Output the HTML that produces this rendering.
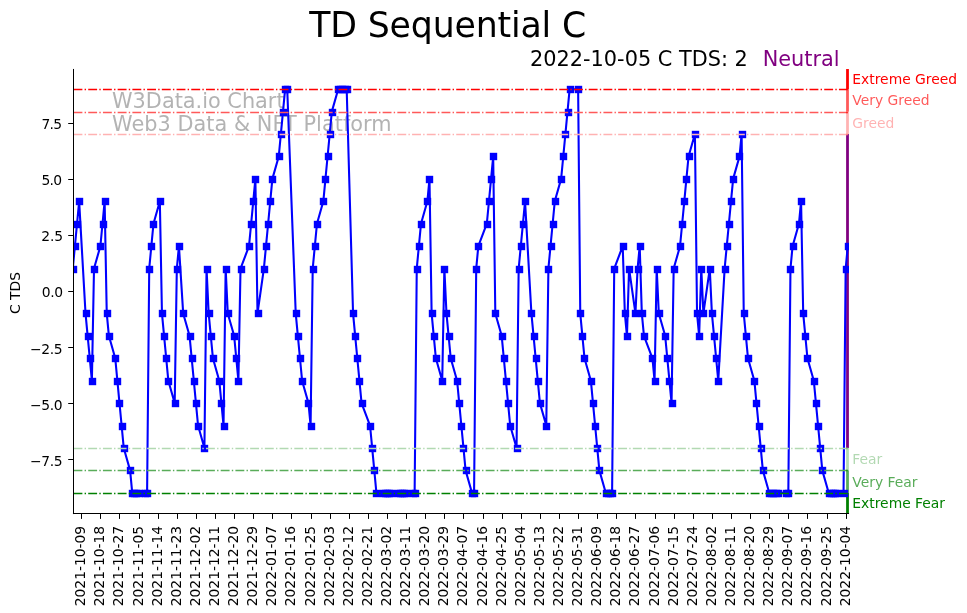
<!DOCTYPE html><html><head><meta charset="utf-8"><title>TD Sequential C</title><style>html,body{margin:0;padding:0;background:#fff}svg{display:block}text{font-family:"DejaVu Sans","Liberation Sans",sans-serif}.t{font-size:13.89px}</style></head><body>
<svg width="967" height="613" viewBox="0 0 967 613">
<rect width="967" height="613" fill="#fff"/>
<text x="112" y="108.3" font-size="20.83" fill="#808080" fill-opacity="0.6">W3Data.io Chart</text>
<text x="112" y="131.3" font-size="20.83" fill="#808080" fill-opacity="0.6" letter-spacing="0.03">Web3 Data &amp; NFT Platform</text>
<rect x="846.11" y="69.04" width="2.78" height="20.18" fill="#ff0000" fill-opacity="1"/>
<rect x="846.11" y="89.22" width="2.78" height="22.42" fill="#ff0000" fill-opacity="0.65"/>
<rect x="846.11" y="111.64" width="2.78" height="22.42" fill="#ff0000" fill-opacity="0.3"/>
<rect x="846.11" y="134.06" width="2.78" height="313.88" fill="#800080" fill-opacity="1"/>
<rect x="846.11" y="447.94" width="2.78" height="22.42" fill="#008000" fill-opacity="0.3"/>
<rect x="846.11" y="470.36" width="2.78" height="22.42" fill="#008000" fill-opacity="0.65"/>
<rect x="846.11" y="492.78" width="2.78" height="21.22" fill="#008000" fill-opacity="1"/>
<defs><rect id="m" x="-3.695" y="-3.695" width="7.39" height="7.39"/></defs>
<clipPath id="c"><rect x="73" y="69" width="776" height="445"/></clipPath>
<g clip-path="url(#c)"><polyline points="72.78,268.58 74.90,246.16 77.03,223.74 79.15,201.32 85.52,313.42 87.64,335.84 89.77,358.26 91.89,380.68 94.01,268.58 100.38,246.16 102.51,223.74 104.63,201.32 106.75,313.42 108.88,335.84 115.25,358.26 117.37,380.68 119.49,403.10 121.62,425.52 123.74,447.94 130.11,470.36 132.23,492.78 134.36,492.78 136.48,492.78 138.60,492.78 144.97,492.78 147.10,492.78 149.22,268.58 151.34,246.16 153.47,223.74 159.84,201.32 161.96,313.42 164.08,335.84 166.21,358.26 168.33,380.68 174.70,403.10 176.82,268.58 178.94,246.16 183.19,313.42 189.56,335.84 191.68,358.26 193.81,380.68 195.93,403.10 198.05,425.52 204.42,447.94 206.55,268.58 208.67,313.42 210.79,335.84 212.92,358.26 219.29,380.68 221.41,403.10 223.53,425.52 225.66,268.58 227.78,313.42 234.15,335.84 236.27,358.26 238.40,380.68 240.52,268.58 249.01,246.16 251.14,223.74 253.26,201.32 255.38,178.90 257.51,313.42 263.88,268.58 266.00,246.16 268.12,223.74 270.25,201.32 272.37,178.90 278.74,156.48 280.86,134.06 282.99,111.64 285.11,89.22 287.23,89.22 295.73,313.42 297.85,335.84 299.97,358.26 302.10,380.68 308.47,403.10 310.59,425.52 312.71,268.58 314.84,246.16 316.96,223.74 323.33,201.32 325.45,178.90 327.58,156.48 329.70,134.06 331.82,111.64 338.19,89.22 340.32,89.22 342.44,89.22 344.56,89.22 346.69,89.22 353.06,313.42 355.18,335.84 357.30,358.26 359.43,380.68 361.55,403.10 370.04,425.52 372.17,447.94 374.29,470.36 376.41,492.78 382.78,492.78 384.91,492.78 387.03,492.78 389.15,492.78 391.27,492.78 397.64,492.78 399.77,492.78 401.89,492.78 404.01,492.78 406.14,492.78 412.51,492.78 414.63,492.78 416.75,268.58 418.88,246.16 421.00,223.74 427.37,201.32 429.49,178.90 431.62,313.42 433.74,335.84 435.86,358.26 442.23,380.68 444.36,268.58 446.48,313.42 448.60,335.84 450.73,358.26 457.10,380.68 459.22,403.10 461.34,425.52 463.47,447.94 465.59,470.36 471.96,492.78 474.08,492.78 476.21,268.58 478.33,246.16 486.82,223.74 488.95,201.32 491.07,178.90 493.19,156.48 495.32,313.42 501.69,335.84 503.81,358.26 505.93,380.68 508.06,403.10 510.18,425.52 516.55,447.94 518.67,268.58 520.80,246.16 522.92,223.74 525.04,201.32 531.41,313.42 533.54,335.84 535.66,358.26 537.78,380.68 539.91,403.10 546.28,425.52 548.40,268.58 550.52,246.16 552.65,223.74 554.77,201.32 561.14,178.90 563.26,156.48 565.39,134.06 567.51,111.64 569.63,89.22 578.13,89.22 580.25,313.42 582.37,335.84 584.50,358.26 590.87,380.68 592.99,403.10 595.11,425.52 597.24,447.94 599.36,470.36 605.73,492.78 607.85,492.78 609.97,492.78 612.10,492.78 614.22,268.58 622.71,246.16 624.84,313.42 626.96,335.84 629.08,268.58 635.45,313.42 637.58,268.58 639.70,246.16 641.82,313.42 643.95,335.84 652.44,358.26 654.56,380.68 656.69,268.58 658.81,313.42 665.18,335.84 667.30,358.26 669.43,380.68 671.55,403.10 673.67,268.58 680.04,246.16 682.17,223.74 684.29,201.32 686.41,178.90 688.54,156.48 694.91,134.06 697.03,313.42 699.15,335.84 701.28,268.58 703.40,313.42 709.77,268.58 711.89,313.42 714.02,335.84 716.14,358.26 718.26,380.68 724.63,268.58 726.76,246.16 728.88,223.74 731.00,201.32 733.13,178.90 739.50,156.48 741.62,134.06 743.74,313.42 745.87,335.84 747.99,358.26 754.36,380.68 756.48,403.10 758.61,425.52 760.73,447.94 762.85,470.36 769.22,492.78 771.35,492.78 773.47,492.78 775.59,492.78 777.72,492.78 786.21,492.78 788.33,492.78 790.46,268.58 792.58,246.16 798.95,223.74 801.07,201.32 803.20,313.42 805.32,335.84 807.44,358.26 813.81,380.68 815.93,403.10 818.06,425.52 820.18,447.94 822.30,470.36 828.67,492.78 830.80,492.78 832.92,492.78 835.04,492.78 837.17,492.78 843.54,492.78 845.66,268.58 847.78,246.16" fill="none" stroke="#0000ff" stroke-width="2.08" stroke-linejoin="round"/>
<g fill="#0000ff"><use href="#m" x="73.5" y="269.5"/><use href="#m" x="75.5" y="246.5"/><use href="#m" x="77.5" y="224.5"/><use href="#m" x="79.5" y="201.5"/><use href="#m" x="86.5" y="313.5"/><use href="#m" x="88.5" y="336.5"/><use href="#m" x="90.5" y="358.5"/><use href="#m" x="92.5" y="381.5"/><use href="#m" x="94.5" y="269.5"/><use href="#m" x="100.5" y="246.5"/><use href="#m" x="103.5" y="224.5"/><use href="#m" x="105.5" y="201.5"/><use href="#m" x="107.5" y="313.5"/><use href="#m" x="109.5" y="336.5"/><use href="#m" x="115.5" y="358.5"/><use href="#m" x="117.5" y="381.5"/><use href="#m" x="119.5" y="403.5"/><use href="#m" x="122.5" y="426.5"/><use href="#m" x="124.5" y="448.5"/><use href="#m" x="130.5" y="470.5"/><use href="#m" x="132.5" y="493.5"/><use href="#m" x="134.5" y="493.5"/><use href="#m" x="136.5" y="493.5"/><use href="#m" x="139.5" y="493.5"/><use href="#m" x="145.5" y="493.5"/><use href="#m" x="147.5" y="493.5"/><use href="#m" x="149.5" y="269.5"/><use href="#m" x="151.5" y="246.5"/><use href="#m" x="153.5" y="224.5"/><use href="#m" x="160.5" y="201.5"/><use href="#m" x="162.5" y="313.5"/><use href="#m" x="164.5" y="336.5"/><use href="#m" x="166.5" y="358.5"/><use href="#m" x="168.5" y="381.5"/><use href="#m" x="175.5" y="403.5"/><use href="#m" x="177.5" y="269.5"/><use href="#m" x="179.5" y="246.5"/><use href="#m" x="183.5" y="313.5"/><use href="#m" x="190.5" y="336.5"/><use href="#m" x="192.5" y="358.5"/><use href="#m" x="194.5" y="381.5"/><use href="#m" x="196.5" y="403.5"/><use href="#m" x="198.5" y="426.5"/><use href="#m" x="204.5" y="448.5"/><use href="#m" x="207.5" y="269.5"/><use href="#m" x="209.5" y="313.5"/><use href="#m" x="211.5" y="336.5"/><use href="#m" x="213.5" y="358.5"/><use href="#m" x="219.5" y="381.5"/><use href="#m" x="221.5" y="403.5"/><use href="#m" x="224.5" y="426.5"/><use href="#m" x="226.5" y="269.5"/><use href="#m" x="228.5" y="313.5"/><use href="#m" x="234.5" y="336.5"/><use href="#m" x="236.5" y="358.5"/><use href="#m" x="238.5" y="381.5"/><use href="#m" x="241.5" y="269.5"/><use href="#m" x="249.5" y="246.5"/><use href="#m" x="251.5" y="224.5"/><use href="#m" x="253.5" y="201.5"/><use href="#m" x="255.5" y="179.5"/><use href="#m" x="258.5" y="313.5"/><use href="#m" x="264.5" y="269.5"/><use href="#m" x="266.5" y="246.5"/><use href="#m" x="268.5" y="224.5"/><use href="#m" x="270.5" y="201.5"/><use href="#m" x="272.5" y="179.5"/><use href="#m" x="279.5" y="156.5"/><use href="#m" x="281.5" y="134.5"/><use href="#m" x="283.5" y="112.5"/><use href="#m" x="285.5" y="89.5"/><use href="#m" x="287.5" y="89.5"/><use href="#m" x="296.5" y="313.5"/><use href="#m" x="298.5" y="336.5"/><use href="#m" x="300.5" y="358.5"/><use href="#m" x="302.5" y="381.5"/><use href="#m" x="308.5" y="403.5"/><use href="#m" x="311.5" y="426.5"/><use href="#m" x="313.5" y="269.5"/><use href="#m" x="315.5" y="246.5"/><use href="#m" x="317.5" y="224.5"/><use href="#m" x="323.5" y="201.5"/><use href="#m" x="325.5" y="179.5"/><use href="#m" x="328.5" y="156.5"/><use href="#m" x="330.5" y="134.5"/><use href="#m" x="332.5" y="112.5"/><use href="#m" x="338.5" y="89.5"/><use href="#m" x="340.5" y="89.5"/><use href="#m" x="342.5" y="89.5"/><use href="#m" x="345.5" y="89.5"/><use href="#m" x="347.5" y="89.5"/><use href="#m" x="353.5" y="313.5"/><use href="#m" x="355.5" y="336.5"/><use href="#m" x="357.5" y="358.5"/><use href="#m" x="359.5" y="381.5"/><use href="#m" x="362.5" y="403.5"/><use href="#m" x="370.5" y="426.5"/><use href="#m" x="372.5" y="448.5"/><use href="#m" x="374.5" y="470.5"/><use href="#m" x="376.5" y="493.5"/><use href="#m" x="383.5" y="493.5"/><use href="#m" x="385.5" y="493.5"/><use href="#m" x="387.5" y="493.5"/><use href="#m" x="389.5" y="493.5"/><use href="#m" x="391.5" y="493.5"/><use href="#m" x="398.5" y="493.5"/><use href="#m" x="400.5" y="493.5"/><use href="#m" x="402.5" y="493.5"/><use href="#m" x="404.5" y="493.5"/><use href="#m" x="406.5" y="493.5"/><use href="#m" x="413.5" y="493.5"/><use href="#m" x="415.5" y="493.5"/><use href="#m" x="417.5" y="269.5"/><use href="#m" x="419.5" y="246.5"/><use href="#m" x="421.5" y="224.5"/><use href="#m" x="427.5" y="201.5"/><use href="#m" x="429.5" y="179.5"/><use href="#m" x="432.5" y="313.5"/><use href="#m" x="434.5" y="336.5"/><use href="#m" x="436.5" y="358.5"/><use href="#m" x="442.5" y="381.5"/><use href="#m" x="444.5" y="269.5"/><use href="#m" x="446.5" y="313.5"/><use href="#m" x="449.5" y="336.5"/><use href="#m" x="451.5" y="358.5"/><use href="#m" x="457.5" y="381.5"/><use href="#m" x="459.5" y="403.5"/><use href="#m" x="461.5" y="426.5"/><use href="#m" x="463.5" y="448.5"/><use href="#m" x="466.5" y="470.5"/><use href="#m" x="472.5" y="493.5"/><use href="#m" x="474.5" y="493.5"/><use href="#m" x="476.5" y="269.5"/><use href="#m" x="478.5" y="246.5"/><use href="#m" x="487.5" y="224.5"/><use href="#m" x="489.5" y="201.5"/><use href="#m" x="491.5" y="179.5"/><use href="#m" x="493.5" y="156.5"/><use href="#m" x="495.5" y="313.5"/><use href="#m" x="502.5" y="336.5"/><use href="#m" x="504.5" y="358.5"/><use href="#m" x="506.5" y="381.5"/><use href="#m" x="508.5" y="403.5"/><use href="#m" x="510.5" y="426.5"/><use href="#m" x="517.5" y="448.5"/><use href="#m" x="519.5" y="269.5"/><use href="#m" x="521.5" y="246.5"/><use href="#m" x="523.5" y="224.5"/><use href="#m" x="525.5" y="201.5"/><use href="#m" x="531.5" y="313.5"/><use href="#m" x="534.5" y="336.5"/><use href="#m" x="536.5" y="358.5"/><use href="#m" x="538.5" y="381.5"/><use href="#m" x="540.5" y="403.5"/><use href="#m" x="546.5" y="426.5"/><use href="#m" x="548.5" y="269.5"/><use href="#m" x="551.5" y="246.5"/><use href="#m" x="553.5" y="224.5"/><use href="#m" x="555.5" y="201.5"/><use href="#m" x="561.5" y="179.5"/><use href="#m" x="563.5" y="156.5"/><use href="#m" x="565.5" y="134.5"/><use href="#m" x="568.5" y="112.5"/><use href="#m" x="570.5" y="89.5"/><use href="#m" x="578.5" y="89.5"/><use href="#m" x="580.5" y="313.5"/><use href="#m" x="582.5" y="336.5"/><use href="#m" x="584.5" y="358.5"/><use href="#m" x="591.5" y="381.5"/><use href="#m" x="593.5" y="403.5"/><use href="#m" x="595.5" y="426.5"/><use href="#m" x="597.5" y="448.5"/><use href="#m" x="599.5" y="470.5"/><use href="#m" x="606.5" y="493.5"/><use href="#m" x="608.5" y="493.5"/><use href="#m" x="610.5" y="493.5"/><use href="#m" x="612.5" y="493.5"/><use href="#m" x="614.5" y="269.5"/><use href="#m" x="623.5" y="246.5"/><use href="#m" x="625.5" y="313.5"/><use href="#m" x="627.5" y="336.5"/><use href="#m" x="629.5" y="269.5"/><use href="#m" x="635.5" y="313.5"/><use href="#m" x="638.5" y="269.5"/><use href="#m" x="640.5" y="246.5"/><use href="#m" x="642.5" y="313.5"/><use href="#m" x="644.5" y="336.5"/><use href="#m" x="652.5" y="358.5"/><use href="#m" x="655.5" y="381.5"/><use href="#m" x="657.5" y="269.5"/><use href="#m" x="659.5" y="313.5"/><use href="#m" x="665.5" y="336.5"/><use href="#m" x="667.5" y="358.5"/><use href="#m" x="669.5" y="381.5"/><use href="#m" x="672.5" y="403.5"/><use href="#m" x="674.5" y="269.5"/><use href="#m" x="680.5" y="246.5"/><use href="#m" x="682.5" y="224.5"/><use href="#m" x="684.5" y="201.5"/><use href="#m" x="686.5" y="179.5"/><use href="#m" x="689.5" y="156.5"/><use href="#m" x="695.5" y="134.5"/><use href="#m" x="697.5" y="313.5"/><use href="#m" x="699.5" y="336.5"/><use href="#m" x="701.5" y="269.5"/><use href="#m" x="703.5" y="313.5"/><use href="#m" x="710.5" y="269.5"/><use href="#m" x="712.5" y="313.5"/><use href="#m" x="714.5" y="336.5"/><use href="#m" x="716.5" y="358.5"/><use href="#m" x="718.5" y="381.5"/><use href="#m" x="725.5" y="269.5"/><use href="#m" x="727.5" y="246.5"/><use href="#m" x="729.5" y="224.5"/><use href="#m" x="731.5" y="201.5"/><use href="#m" x="733.5" y="179.5"/><use href="#m" x="739.5" y="156.5"/><use href="#m" x="742.5" y="134.5"/><use href="#m" x="744.5" y="313.5"/><use href="#m" x="746.5" y="336.5"/><use href="#m" x="748.5" y="358.5"/><use href="#m" x="754.5" y="381.5"/><use href="#m" x="756.5" y="403.5"/><use href="#m" x="759.5" y="426.5"/><use href="#m" x="761.5" y="448.5"/><use href="#m" x="763.5" y="470.5"/><use href="#m" x="769.5" y="493.5"/><use href="#m" x="771.5" y="493.5"/><use href="#m" x="773.5" y="493.5"/><use href="#m" x="776.5" y="493.5"/><use href="#m" x="778.5" y="493.5"/><use href="#m" x="786.5" y="493.5"/><use href="#m" x="788.5" y="493.5"/><use href="#m" x="790.5" y="269.5"/><use href="#m" x="793.5" y="246.5"/><use href="#m" x="799.5" y="224.5"/><use href="#m" x="801.5" y="201.5"/><use href="#m" x="803.5" y="313.5"/><use href="#m" x="805.5" y="336.5"/><use href="#m" x="807.5" y="358.5"/><use href="#m" x="814.5" y="381.5"/><use href="#m" x="816.5" y="403.5"/><use href="#m" x="818.5" y="426.5"/><use href="#m" x="820.5" y="448.5"/><use href="#m" x="822.5" y="470.5"/><use href="#m" x="829.5" y="493.5"/><use href="#m" x="831.5" y="493.5"/><use href="#m" x="833.5" y="493.5"/><use href="#m" x="835.5" y="493.5"/><use href="#m" x="837.5" y="493.5"/><use href="#m" x="844.5" y="493.5"/><use href="#m" x="846.5" y="269.5"/><use href="#m" x="848.5" y="246.5"/></g></g>
<line x1="73.5" x2="849" y1="89.5" y2="89.5" stroke="#ff0000" stroke-width="1.39" stroke-dasharray="8.89 2.22 1.39 2.22"/>
<line x1="73.5" x2="849" y1="112.5" y2="112.5" stroke="#ff5959" stroke-width="1.39" stroke-dasharray="8.89 2.22 1.39 2.22"/>
<line x1="846.11" x2="847.83" y1="112.5" y2="112.5" stroke="#ff0000" stroke-opacity="0.65" stroke-width="1.39"/>
<line x1="73.5" x2="849" y1="134.5" y2="134.5" stroke="#ffb2b2" stroke-width="1.39" stroke-dasharray="8.89 2.22 1.39 2.22"/>
<line x1="846.11" x2="847.83" y1="134.5" y2="134.5" stroke="#ff0000" stroke-opacity="0.3" stroke-width="1.39"/>
<line x1="73.5" x2="849" y1="448.5" y2="448.5" stroke="#b2d9b2" stroke-width="1.39" stroke-dasharray="8.89 2.22 1.39 2.22"/>
<line x1="846.11" x2="847.83" y1="448.5" y2="448.5" stroke="#008000" stroke-opacity="0.3" stroke-width="1.39"/>
<line x1="73.5" x2="849" y1="470.5" y2="470.5" stroke="#59ac59" stroke-width="1.39" stroke-dasharray="8.89 2.22 1.39 2.22"/>
<line x1="846.11" x2="847.83" y1="470.5" y2="470.5" stroke="#008000" stroke-opacity="0.65" stroke-width="1.39"/>
<line x1="73.5" x2="849" y1="493.5" y2="493.5" stroke="#008000" stroke-width="1.39" stroke-dasharray="8.89 2.22 1.39 2.22"/>
<rect x="73" y="68.95" width="1" height="445.10" fill="#000"/>
<rect x="72.95" y="513" width="776.10" height="1" fill="#000"/>
<rect x="68.2" y="123.0" width="4.9" height="1" fill="#000"/>
<text class="t" x="61.48" y="128.65" text-anchor="end" letter-spacing="-0.67">7.5</text>
<rect x="68.2" y="179.0" width="4.9" height="1" fill="#000"/>
<text class="t" x="61.48" y="184.70" text-anchor="end" letter-spacing="-0.67">5.0</text>
<rect x="68.2" y="235.0" width="4.9" height="1" fill="#000"/>
<text class="t" x="63.15" y="240.75" text-anchor="end" letter-spacing="-0.05">2.5</text>
<rect x="68.2" y="291.0" width="4.9" height="1" fill="#000"/>
<text class="t" x="62.85" y="296.80" text-anchor="end" letter-spacing="-0.35">0.0</text>
<rect x="68.2" y="347.0" width="4.9" height="1" fill="#000"/>
<text class="t" x="62.15" y="353.75" text-anchor="end" letter-spacing="-0.4">−2.5</text>
<rect x="68.2" y="403.0" width="4.9" height="1" fill="#000"/>
<text class="t" x="62.15" y="409.80" text-anchor="end" letter-spacing="-0.4">−5.0</text>
<rect x="68.2" y="459.0" width="4.9" height="1" fill="#000"/>
<text class="t" x="62.15" y="465.85" text-anchor="end" letter-spacing="-0.4">−7.5</text>
<rect x="81.0" y="514" width="1" height="4.9" fill="#000"/>
<text class="t" transform="translate(85.20,525.83) rotate(-90)" text-anchor="end" letter-spacing="-0.02">2021-10-09</text>
<rect x="100.0" y="514" width="1" height="4.9" fill="#000"/>
<text class="t" transform="translate(104.20,525.83) rotate(-90)" text-anchor="end" letter-spacing="-0.02">2021-10-18</text>
<rect x="119.0" y="514" width="1" height="4.9" fill="#000"/>
<text class="t" transform="translate(123.20,525.83) rotate(-90)" text-anchor="end" letter-spacing="-0.02">2021-10-27</text>
<rect x="139.0" y="514" width="1" height="4.9" fill="#000"/>
<text class="t" transform="translate(143.20,525.83) rotate(-90)" text-anchor="end" letter-spacing="-0.02">2021-11-05</text>
<rect x="158.0" y="514" width="1" height="4.9" fill="#000"/>
<text class="t" transform="translate(162.20,525.83) rotate(-90)" text-anchor="end" letter-spacing="-0.02">2021-11-14</text>
<rect x="177.0" y="514" width="1" height="4.9" fill="#000"/>
<text class="t" transform="translate(181.20,525.83) rotate(-90)" text-anchor="end" letter-spacing="-0.02">2021-11-23</text>
<rect x="196.0" y="514" width="1" height="4.9" fill="#000"/>
<text class="t" transform="translate(200.20,525.83) rotate(-90)" text-anchor="end" letter-spacing="-0.02">2021-12-02</text>
<rect x="215.0" y="514" width="1" height="4.9" fill="#000"/>
<text class="t" transform="translate(219.20,525.83) rotate(-90)" text-anchor="end" letter-spacing="-0.02">2021-12-11</text>
<rect x="234.0" y="514" width="1" height="4.9" fill="#000"/>
<text class="t" transform="translate(238.20,525.83) rotate(-90)" text-anchor="end" letter-spacing="-0.02">2021-12-20</text>
<rect x="253.0" y="514" width="1" height="4.9" fill="#000"/>
<text class="t" transform="translate(257.20,525.83) rotate(-90)" text-anchor="end" letter-spacing="-0.02">2021-12-29</text>
<rect x="272.0" y="514" width="1" height="4.9" fill="#000"/>
<text class="t" transform="translate(276.20,525.83) rotate(-90)" text-anchor="end" letter-spacing="-0.02">2022-01-07</text>
<rect x="291.0" y="514" width="1" height="4.9" fill="#000"/>
<text class="t" transform="translate(295.20,525.83) rotate(-90)" text-anchor="end" letter-spacing="-0.02">2022-01-16</text>
<rect x="311.0" y="514" width="1" height="4.9" fill="#000"/>
<text class="t" transform="translate(315.20,525.83) rotate(-90)" text-anchor="end" letter-spacing="-0.02">2022-01-25</text>
<rect x="330.0" y="514" width="1" height="4.9" fill="#000"/>
<text class="t" transform="translate(334.20,525.83) rotate(-90)" text-anchor="end" letter-spacing="-0.02">2022-02-03</text>
<rect x="349.0" y="514" width="1" height="4.9" fill="#000"/>
<text class="t" transform="translate(353.20,525.83) rotate(-90)" text-anchor="end" letter-spacing="-0.02">2022-02-12</text>
<rect x="368.0" y="514" width="1" height="4.9" fill="#000"/>
<text class="t" transform="translate(372.20,525.83) rotate(-90)" text-anchor="end" letter-spacing="-0.02">2022-02-21</text>
<rect x="387.0" y="514" width="1" height="4.9" fill="#000"/>
<text class="t" transform="translate(391.20,525.83) rotate(-90)" text-anchor="end" letter-spacing="-0.02">2022-03-02</text>
<rect x="406.0" y="514" width="1" height="4.9" fill="#000"/>
<text class="t" transform="translate(410.20,525.83) rotate(-90)" text-anchor="end" letter-spacing="-0.02">2022-03-11</text>
<rect x="425.0" y="514" width="1" height="4.9" fill="#000"/>
<text class="t" transform="translate(429.20,525.83) rotate(-90)" text-anchor="end" letter-spacing="-0.02">2022-03-20</text>
<rect x="444.0" y="514" width="1" height="4.9" fill="#000"/>
<text class="t" transform="translate(448.20,525.83) rotate(-90)" text-anchor="end" letter-spacing="-0.02">2022-03-29</text>
<rect x="463.0" y="514" width="1" height="4.9" fill="#000"/>
<text class="t" transform="translate(467.20,525.83) rotate(-90)" text-anchor="end" letter-spacing="-0.02">2022-04-07</text>
<rect x="483.0" y="514" width="1" height="4.9" fill="#000"/>
<text class="t" transform="translate(487.20,525.83) rotate(-90)" text-anchor="end" letter-spacing="-0.02">2022-04-16</text>
<rect x="502.0" y="514" width="1" height="4.9" fill="#000"/>
<text class="t" transform="translate(506.20,525.83) rotate(-90)" text-anchor="end" letter-spacing="-0.02">2022-04-25</text>
<rect x="521.0" y="514" width="1" height="4.9" fill="#000"/>
<text class="t" transform="translate(525.20,525.83) rotate(-90)" text-anchor="end" letter-spacing="-0.02">2022-05-04</text>
<rect x="540.0" y="514" width="1" height="4.9" fill="#000"/>
<text class="t" transform="translate(544.20,525.83) rotate(-90)" text-anchor="end" letter-spacing="-0.02">2022-05-13</text>
<rect x="559.0" y="514" width="1" height="4.9" fill="#000"/>
<text class="t" transform="translate(563.20,525.83) rotate(-90)" text-anchor="end" letter-spacing="-0.02">2022-05-22</text>
<rect x="578.0" y="514" width="1" height="4.9" fill="#000"/>
<text class="t" transform="translate(582.20,525.83) rotate(-90)" text-anchor="end" letter-spacing="-0.02">2022-05-31</text>
<rect x="597.0" y="514" width="1" height="4.9" fill="#000"/>
<text class="t" transform="translate(601.20,525.83) rotate(-90)" text-anchor="end" letter-spacing="-0.02">2022-06-09</text>
<rect x="616.0" y="514" width="1" height="4.9" fill="#000"/>
<text class="t" transform="translate(620.20,525.83) rotate(-90)" text-anchor="end" letter-spacing="-0.02">2022-06-18</text>
<rect x="635.0" y="514" width="1" height="4.9" fill="#000"/>
<text class="t" transform="translate(639.20,525.83) rotate(-90)" text-anchor="end" letter-spacing="-0.02">2022-06-27</text>
<rect x="655.0" y="514" width="1" height="4.9" fill="#000"/>
<text class="t" transform="translate(659.20,525.83) rotate(-90)" text-anchor="end" letter-spacing="-0.02">2022-07-06</text>
<rect x="674.0" y="514" width="1" height="4.9" fill="#000"/>
<text class="t" transform="translate(678.20,525.83) rotate(-90)" text-anchor="end" letter-spacing="-0.02">2022-07-15</text>
<rect x="693.0" y="514" width="1" height="4.9" fill="#000"/>
<text class="t" transform="translate(697.20,525.83) rotate(-90)" text-anchor="end" letter-spacing="-0.02">2022-07-24</text>
<rect x="712.0" y="514" width="1" height="4.9" fill="#000"/>
<text class="t" transform="translate(716.20,525.83) rotate(-90)" text-anchor="end" letter-spacing="-0.02">2022-08-02</text>
<rect x="731.0" y="514" width="1" height="4.9" fill="#000"/>
<text class="t" transform="translate(735.20,525.83) rotate(-90)" text-anchor="end" letter-spacing="-0.02">2022-08-11</text>
<rect x="750.0" y="514" width="1" height="4.9" fill="#000"/>
<text class="t" transform="translate(754.20,525.83) rotate(-90)" text-anchor="end" letter-spacing="-0.02">2022-08-20</text>
<rect x="769.0" y="514" width="1" height="4.9" fill="#000"/>
<text class="t" transform="translate(773.20,525.83) rotate(-90)" text-anchor="end" letter-spacing="-0.02">2022-08-29</text>
<rect x="788.0" y="514" width="1" height="4.9" fill="#000"/>
<text class="t" transform="translate(792.20,525.83) rotate(-90)" text-anchor="end" letter-spacing="-0.02">2022-09-07</text>
<rect x="807.0" y="514" width="1" height="4.9" fill="#000"/>
<text class="t" transform="translate(811.20,525.83) rotate(-90)" text-anchor="end" letter-spacing="-0.02">2022-09-16</text>
<rect x="827.0" y="514" width="1" height="4.9" fill="#000"/>
<text class="t" transform="translate(831.20,525.83) rotate(-90)" text-anchor="end" letter-spacing="-0.02">2022-09-25</text>
<rect x="846.0" y="514" width="1" height="4.9" fill="#000"/>
<text class="t" transform="translate(850.20,525.83) rotate(-90)" text-anchor="end" letter-spacing="-0.02">2022-10-04</text>
<text class="t" transform="translate(19.5,293.00) rotate(-90)" text-anchor="middle">C TDS</text>
<text x="309.2" y="37.3" font-size="34.72" letter-spacing="-0.16">TD Sequential C</text>
<text x="530.1" y="65.6" font-size="20.83">2022-10-05 C TDS: 2</text>
<text x="762.7" y="65.6" font-size="20.83" fill="#800080">Neutral</text>
<text class="t" x="852.3" y="83.5" fill="#ff0000" fill-opacity="1">Extreme Greed</text>
<text class="t" x="852.3" y="105" fill="#ff0000" fill-opacity="0.65">Very Greed</text>
<text class="t" x="852.3" y="128" fill="#ff0000" fill-opacity="0.3">Greed</text>
<text class="t" x="852.3" y="464" fill="#008000" fill-opacity="0.3">Fear</text>
<text class="t" x="852.3" y="487" fill="#008000" fill-opacity="0.65">Very Fear</text>
<text class="t" x="852.3" y="508" fill="#008000" fill-opacity="1">Extreme Fear</text>
</svg></body></html>
